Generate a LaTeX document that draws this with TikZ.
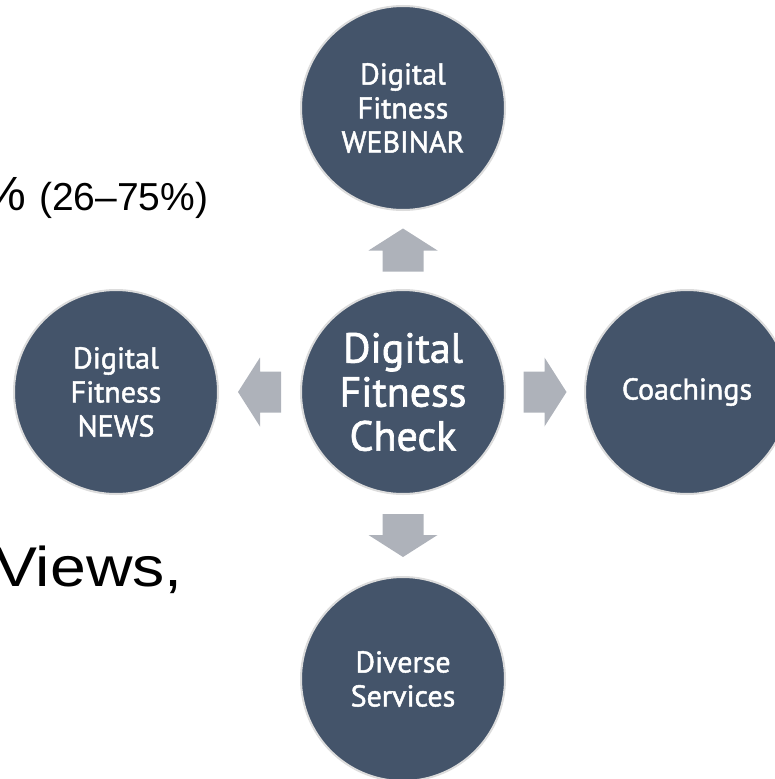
\documentclass[tikz,border=0pt]{standalone}
\usepackage{fontspec}
\setmainfont{PT Sans}
\newfontfamily\bubblefont[FakeBold=1.6]{PT Sans}
\newfontfamily\bgfont{Liberation Sans}
\usetikzlibrary{calc}
\definecolor{circfill}{HTML}{44546A}
\definecolor{circline}{HTML}{DCDCDC}
\definecolor{arrfill}{HTML}{AEB2BA}
\tikzset{
  bubble/.style={circle, minimum size=204pt, inner sep=0pt, fill=circfill, draw=circline, line width=2pt, text=white, align=center, font=\bubblefont\fontsize{30}{34}\selectfont},
  bigbubble/.style={bubble, font=\bubblefont\fontsize{42}{44}\selectfont},
  bgtext/.style={anchor=base west, inner sep=0pt, text=black, font=\bgfont},
  blockarrow/.pic={\fill[arrfill] (0,-21.5) -- (34.5,0.5) -- (20.5,0.5) -- (20.5,21.5) -- (-20.5,21.5) -- (-20.5,0.5) -- (-34.5,0.5) -- cycle;}
}
\begin{document}
\begin{tikzpicture}[x=1pt,y=-1pt]
\useasboundingbox (0,0) rectangle (775,779);
\clip (0,0) rectangle (775,779);
% background slide text
\node[bgtext] (pct) at (-17,210) {\fontsize{48}{50}\selectfont\% \fontsize{39}{41}\selectfont(26–75\%)};
\node[bgtext] (views) at (-6,586) {\scalebox{1.15}[1]{\fontsize{56}{58}\selectfont Views,}};
% circles
\node[bigbubble] (c) at (403,392) {Digital\\Fitness\\Check};
\node[bubble] (t) at (403,108) {Digital\\Fitness\\WEBINAR};
\node[bubble] (l) at (116,392) {Digital\\Fitness\\NEWS};
\node[bubble] (r) at (687,392) {Coachings};
\node[bubble] (b) at (403,679) {Diverse\\Services};
% block arrows
\path (c.north) -- (t.south) coordinate[midway] (mu);
\path (c.south) -- (b.north) coordinate[midway] (md);
\path (c.west) -- (l.east) coordinate[midway] (ml);
\path (c.east) -- (r.west) coordinate[midway] (mr);
\pic at (mu) {blockarrow};
\pic[rotate=180] at (md) {blockarrow};
\pic[rotate=90] at (ml) {blockarrow};
\pic[rotate=-90] at (mr) {blockarrow};
\end{tikzpicture}
\end{document}
